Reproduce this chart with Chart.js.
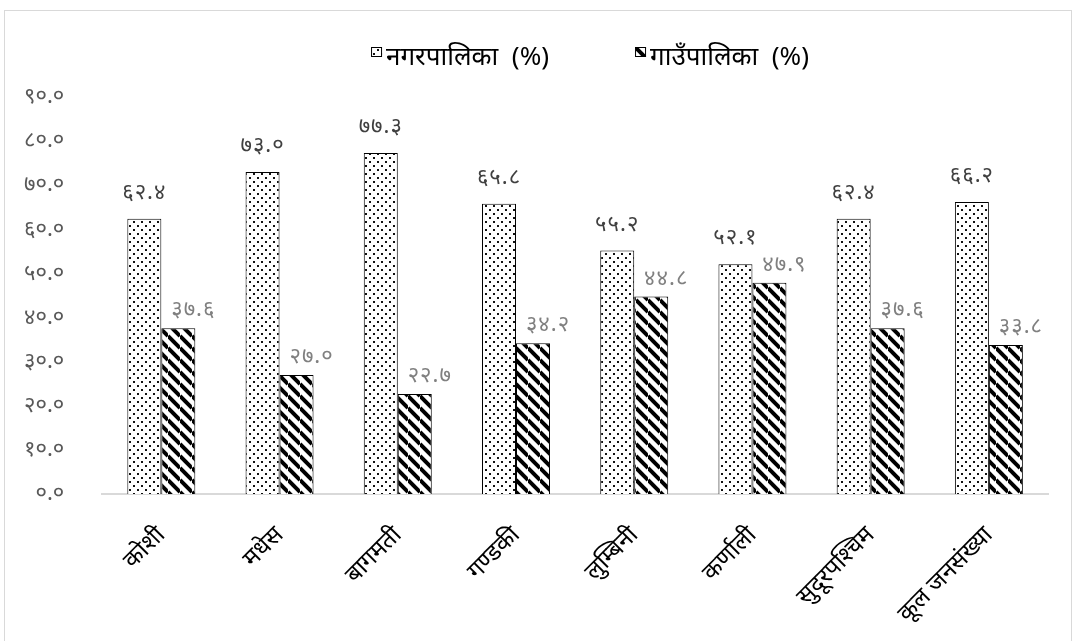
<!DOCTYPE html>
<html>
<head>
<meta charset="utf-8">
<script src="https://cdn.jsdelivr.net/npm/chart.js"></script>
<style>
  body { margin: 0; background: #fff; }
  #frame { position: absolute; left: 4px; top: 10px; width: 1066px; height: 640px; border: 1px solid #d9d9d9; }
  #wrap { position: absolute; left: 0; top: 0; width: 1073px; height: 641px; }
</style>
</head>
<body>
<div id="frame"></div>
<div id="wrap"><canvas id="chart"></canvas></div>
<script>
const categories = ['कोशी', 'मधेस', 'बागमती', 'गण्डकी', 'लुम्बिनी', 'कर्णाली', 'सुदूरपश्चिम', 'कूल जनसंख्या'];
const nagarValues = [62.4, 73.0, 77.3, 65.8, 55.2, 52.1, 62.4, 66.2];
const gaunValues = [37.6, 27.0, 22.7, 34.2, 44.8, 47.9, 37.6, 33.8];
const seriesNames = ['नगरपालिका  (%)', 'गाउँपालिका  (%)'];
const yTickLabels = ['०.०', '१०.०', '२०.०', '३०.०', '४०.०', '५०.०', '६०.०', '७०.०', '८०.०', '९०.०'];

const devDigits = '०१२३४५६७८९';
function toDev(s) {
  return s.replace(/[0-9]/g, d => devDigits[+d]);
}

const canvas = document.getElementById('chart');
const ctx = canvas.getContext('2d');

// dotted fill
function dotPattern() {
  const c = document.createElement('canvas');
  c.width = 8; c.height = 8;
  const g = c.getContext('2d');
  g.fillStyle = '#fff';
  g.fillRect(0, 0, 8, 8);
  g.fillStyle = '#111';
  g.fillRect(1, 1, 2, 2);
  g.fillRect(5, 5, 2, 2);
  return ctx.createPattern(c, 'repeat');
}

// wide downward diagonal fill
function stripePattern() {
  const s = 12;
  const c = document.createElement('canvas');
  c.width = s; c.height = s;
  const g = c.getContext('2d');
  g.fillStyle = '#fff';
  g.fillRect(0, 0, s, s);
  g.strokeStyle = '#000';
  g.lineWidth = 4;
  for (const o of [-s, 0, s]) {
    g.beginPath();
    g.moveTo(0, o);
    g.lineTo(s, s + o);
    g.stroke();
  }
  return ctx.createPattern(c, 'repeat');
}

const FONT = '"Noto Sans", "Noto Sans Devanagari", sans-serif';

const barLabels = {
  id: 'barLabels',
  afterDatasetsDraw(chart) {
    const c = chart.ctx;
    c.save();
    c.font = '22px ' + FONT;
    c.letterSpacing = '1px';
    c.textBaseline = 'middle';
    c.textAlign = 'center';
    chart.data.datasets.forEach((ds, i) => {
      chart.getDatasetMeta(i).data.forEach((bar, j) => {
        const txt = toDev(ds.data[j].toFixed(1));
        if (i === 0) {
          c.fillStyle = '#404040';
          c.fillText(txt, bar.x, bar.y - 26);
        } else {
          c.fillStyle = '#808080';
          c.fillText(txt, bar.x + 15, bar.y - 18);
        }
      });
    });
    c.restore();
  }
};

const topLegend = {
  id: 'topLegend',
  afterDraw(chart) {
    const c = chart.ctx;
    c.save();
    c.font = '26px ' + FONT;
    c.textBaseline = 'middle';
    c.textAlign = 'left';
    const box = 11, gap = 4, spacing = 86;
    const widths = chart.data.datasets.map(ds => c.measureText(ds.label).width);
    let total = spacing * (widths.length - 1);
    widths.forEach(w => total += box + gap + w);
    let x = 590 - total / 2;
    const y = 57;
    chart.data.datasets.forEach((ds, i) => {
      c.fillStyle = ds.backgroundColor;
      c.fillRect(x, y - 10, box, 10);
      c.strokeStyle = '#000';
      c.lineWidth = 1;
      c.strokeRect(x + 0.5, y - 9.5, box - 1, 9);
      c.fillStyle = '#000';
      c.fillText(ds.label, x + box + gap, y + 1);
      x += box + gap + widths[i] + spacing;
    });
    c.restore();
  }
};

new Chart(canvas, {
  type: 'bar',
  data: {
    labels: categories,
    datasets: [
      {
        label: seriesNames[0],
        data: nagarValues,
        backgroundColor: dotPattern(),
        borderColor: '#000',
        borderWidth: 1,
      },
      {
        label: seriesNames[1],
        data: gaunValues,
        backgroundColor: stripePattern(),
        borderColor: '#000',
        borderWidth: 1,
      },
    ],
  },
  options: {
    responsive: true,
    maintainAspectRatio: false,
    animation: false,
    layout: {
      padding: { top: 97, right: 25, left: -6, bottom: -6 },
    },
    datasets: {
      bar: { categoryPercentage: 0.575, barPercentage: 1.0 },
    },
    plugins: {
      legend: { display: false },
      tooltip: { enabled: false },
    },
    scales: {
      x: {
        grid: { display: false },
        border: { color: '#d9d9d9', width: 2 },
        ticks: {
          color: '#000',
          font: { family: FONT, size: 24 },
          minRotation: 45,
          maxRotation: 45,
          padding: 19,
        },
      },
      y: {
        min: 0,
        max: 90,
        grid: { display: false },
        border: { display: false },
        ticks: {
          stepSize: 10,
          color: '#595959',
          padding: 30,
          font: { family: FONT, size: 22 },
          callback: (value) => yTickLabels[Math.round(value / 10)],
        },
      },
    },
  },
  plugins: [barLabels, topLegend],
});
</script>
</body>
</html>
